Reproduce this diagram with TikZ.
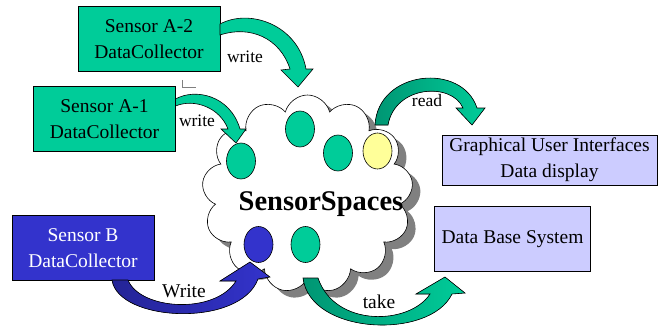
\documentclass[tikz,border=0pt]{standalone}
\usepackage{fontspec}
\setmainfont{Liberation Serif}
\definecolor{sensorgreen}{RGB}{0, 204, 153}
\definecolor{darkgreen}{RGB}{0, 150, 115}
\definecolor{sensorblue}{RGB}{51, 51, 204}
\definecolor{darkblue}{RGB}{36, 36, 150}
\definecolor{lavender1}{RGB}{204, 204, 255}
\definecolor{paleyellow}{RGB}{255, 255, 153}
\usetikzlibrary{shapes, arrows.meta, positioning, calc}

\begin{document}
\begin{tikzpicture}[
  x=1pt, y=-1pt,
  collbox/.style={draw, line width=0.6pt, minimum width=142pt, minimum height=65pt, align=center, inner sep=0pt, font=\fontsize{19.5}{26}\selectfont},
  spot/.style={draw, ellipse, line width=0.6pt, minimum width=29pt, minimum height=36pt, inner sep=0pt},
  cloudshape/.style={cloud, cloud puffs=13, cloud ignores aspect, minimum width=211pt, minimum height=198pt, inner sep=0pt},
  blockarrow/.style={draw, line width=0.6pt},
  lbl/.style={font=\fontsize{17.5}{20}\selectfont, inner sep=0pt}
]
  \useasboundingbox (0,0) rectangle (659,327);

  % collectors
  \node[collbox, fill=sensorgreen] (a2) at (149,39) {Sensor A-2\\DataCollector};
  \node[collbox, fill=sensorgreen] (a1) at (104.5,119) {Sensor A-1\\DataCollector};
  \node[collbox, fill=sensorblue, text=white] (b) at (83,248) {Sensor B\\DataCollector};
  \draw[gray, line width=0.5pt] (a2.south -| 182,0) ++(0,8) -- ++(0,7) -- ++(14,0);

  % the space
  \node[cloudshape, fill=gray] (spaceshadow) at (315.5,201) {};
  \node[cloudshape, draw, line width=0.6pt, fill=white] (space) at (307.5,194) {};
  \node[font=\fontsize{28.5}{32}\selectfont\bfseries, anchor=base, inner sep=0pt] (title) at (321,210) {SensorSpaces};
  \node[spot, fill=sensorgreen] (d1) at (241,161) {};
  \node[spot, fill=sensorgreen] (d2) at (300,129) {};
  \node[spot, fill=sensorgreen] (d3) at (338,153) {};
  \node[spot, fill=paleyellow] (d4) at (377.5,151) {};
  \node[spot, fill=sensorblue] (d5) at (258.5,244.5) {};
  \node[spot, fill=sensorgreen] (d6) at (305.5,244.5) {};

  % consumers
  \node[draw, line width=0.6pt, fill=lavender1, minimum width=215pt, minimum height=50pt, align=center, inner sep=0pt, font=\fontsize{19.5}{26}\selectfont] (gui) at (549.5,160) {Graphical User Interfaces\\Data display};
  \node[draw, line width=0.6pt, fill=lavender1, minimum width=156pt, minimum height=65pt, inner sep=0pt, font=\fontsize{19.5}{26}\selectfont] (db) at (512.5,239) {Data Base System};

  % write A-2
  \filldraw[blockarrow, fill=sensorgreen] (220,24) .. controls (250,8) and (298,25) .. (306,69)
    -- (313,69) -- (298,87) -- (281,70) -- (290,69) .. controls (280,38) and (250,25) .. (220,35) -- cycle;
  \node[lbl] (w2) at (245,57) {write};

  % write A-1
  \filldraw[blockarrow, fill=sensorgreen] (175.5,99) .. controls (195,88) and (230,95) .. (240,129)
    -- (246,129) -- (236,143) -- (221,129) -- (228,129) .. controls (220,108) and (195,98) .. (175.5,106) -- cycle;
  \node[lbl] (w1) at (197,121) {write};

  % write B
  \filldraw[blockarrow, left color=darkblue, right color=sensorblue] (112,280) .. controls (118,322) and (240,328) .. (258,279)
    -- (270,277) -- (250,262) -- (220,281) -- (236,281) .. controls (215,315) and (140,310) .. (128,280) -- cycle;
  \node[lbl, font=\fontsize{19.5}{22}\selectfont] (wb) at (184,291) {Write};

  % read
  \filldraw[blockarrow, left color=darkgreen, right color=sensorgreen] (375,125) .. controls (378,70) and (462,62) .. (477,108)
    -- (485,108) -- (472,125) -- (456,108) -- (463,108) .. controls (452,82) and (395,85) .. (388,125) -- cycle;
  \node[lbl] (rd) at (427,101) {read};

  % take
  \filldraw[blockarrow, left color=darkgreen, right color=sensorgreen] (303,278) .. controls (310,335) and (430,340) .. (452,294)
    -- (465,293) -- (445,277) -- (416,294) -- (430,294) .. controls (410,325) and (335,328) .. (318,278) -- cycle;
  \node[lbl, font=\fontsize{19.5}{22}\selectfont] (tk) at (379,302) {take};
\end{tikzpicture}
\end{document}
